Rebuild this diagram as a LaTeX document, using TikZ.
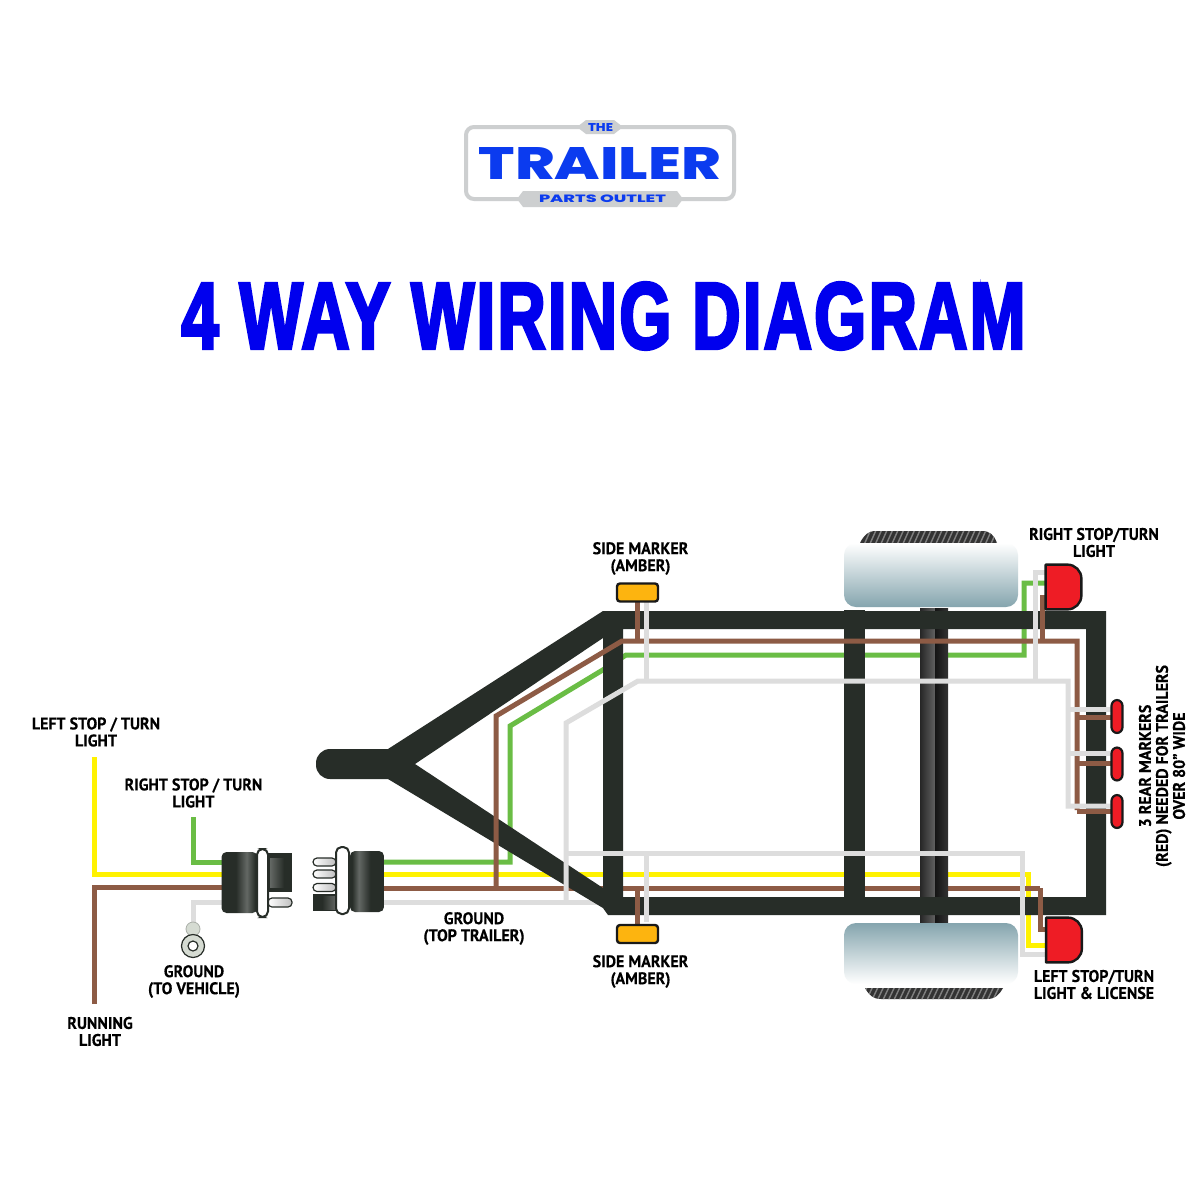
\documentclass[tikz,border=0pt]{standalone}
\usepackage{fontspec}
\setmainfont{PT Sans}[BoldFeatures={FakeStretch=0.95,FakeBold=0.25}]
\newfontfamily\logofont{Poppins}[BoldFont=Poppins ExtraBold]
\newfontfamily\titlefont{Liberation Sans}[BoldFeatures={FakeBold=3.5,LetterSpace=3,FakeStretch=0.9}]
\usetikzlibrary{positioning, calc, arrows.meta}

\definecolor{framedark}{HTML}{272D28}
\definecolor{wiregreen}{HTML}{6ABD45}
\definecolor{wireyellow}{HTML}{FFF200}
\definecolor{wirebrown}{HTML}{8D5B45}
\definecolor{wirewhite}{HTML}{DDDDDD}
\definecolor{lampred}{HTML}{EE1C25}
\definecolor{lampamber}{HTML}{FDB40F}
\definecolor{logoblue}{HTML}{0B3BEF}
\definecolor{titleblue}{HTML}{0000EE}
\definecolor{logogray}{HTML}{CDCFD0}
\definecolor{wheelblue}{HTML}{85A5AE}
\definecolor{lugface}{HTML}{D5DBD2}
\colorlet{bodylight}{framedark!72!white}

\pgfdeclarehorizontalshading{plugleftshade}{100bp}{color(0bp)=(framedark); color(45bp)=(framedark); color(60bp)=(bodylight); color(72bp)=(framedark); color(100bp)=(framedark)}
\pgfdeclarehorizontalshading{plugrightshade}{100bp}{color(0bp)=(framedark); color(28bp)=(framedark); color(38bp)=(bodylight); color(55bp)=(framedark); color(100bp)=(framedark)}

\tikzset{
  wire/.style={line width=2.5pt},
  green wire/.style={wire, wiregreen},
  yellow wire/.style={wire, wireyellow},
  brown wire/.style={wire, wirebrown},
  white wire/.style={wire, wirewhite},
  lab/.style={inner sep=0pt, align=center, text=black, font=\bfseries\fontsize{8.4}{8.5}\selectfont},
  plugbody/.style={inner sep=0pt, rounded corners=2.5pt},
  collar/.style={draw=framedark, fill=white, line width=1pt, inner sep=0pt, rounded corners=2.8pt},
  pin/.style={draw=framedark, line width=.6pt, left color=white, right color=black!25, rounded corners=2pt, inner sep=0pt},
  marker/.style={draw=black!90, fill=lampamber, line width=1.2pt, rounded corners=1.5pt, inner sep=0pt, minimum width=20.5pt, minimum height=9pt},
  rear/.style={draw=black!90, fill=lampred, line width=1.1pt, rounded corners=2.9pt, inner sep=0pt, minimum width=5.5pt, minimum height=16.5pt},
  lamp/.style={inner sep=0pt, minimum width=17.5pt, minimum height=22pt},
  lampface/.style={draw=black!90, fill=lampred, line width=1.2pt, line join=round},
}

\begin{document}
\begin{tikzpicture}[x=0.5pt, y=-0.5pt]
    \useasboundingbox (0,0) rectangle (1200,1200);
    \fill[white] (0,0) rectangle (1200,1200);

    % Logo
    \draw[logogray, line width=2pt, rounded corners=4pt] (466,127) rectangle (734,199);
    \fill[logogray] (577,127) -- (586,120) -- (614,120) -- (623,127) -- (614,134) -- (586,134) -- cycle;
    \fill[logogray] (517,199) -- (523,191) -- (677,191) -- (683,199) -- (677,207) -- (523,207) -- cycle;
    \node[inner sep=0pt, logoblue] (logothe) at (600.5,127) {\resizebox{12.5pt}{4pt}{\logofont\bfseries THE}};
    \node[inner sep=0pt, logoblue] (logomain) at (600,163) {\resizebox{121pt}{16pt}{\logofont\bfseries TRAILER}};
    \node[inner sep=0pt, logoblue] (logoparts) at (602.5,198.5) {\resizebox{63.5pt}{3.8pt}{\logofont\bfseries PARTS OUTLET}};

    % Title
    \node[inner sep=0pt, titleblue] (title) at (603.5,316) {\resizebox{422pt}{33pt}{\titlefont\bfseries 4 WAY WIRING DIAGRAM}};

    % Wires under the frame
    \coordinate (plugLg) at (222,862);
    \coordinate (plugLy) at (222,874);
    \coordinate (plugLb) at (222,887);
    \coordinate (plugLw) at (222,902);
    \coordinate (plugRg) at (384,862);
    \coordinate (plugRy) at (384,874);
    \coordinate (plugRb) at (384,888);
    \coordinate (plugRw) at (384,902);
    \coordinate (greenend) at (193,817);
    \coordinate (yellowend) at (94,757);
    \coordinate (brownend) at (94,1004);
    \draw[green wire] (greenend) -- (193,862) -- (plugLg);
    \draw[yellow wire] (yellowend) -- (94,874) -- (plugLy);
    \draw[brown wire] (brownend) -- (94,887) -- (plugLb);
    \draw[white wire] (193,925) -- (193,902) -- (plugLw);
    \draw[green wire] (plugRg) -- (510,862) -- (510,726) -- (606,668) -- (626,655) -- (1024,655) -- (1024,583) -- (1048,583);
    \draw[yellow wire] (plugRy) -- (1028,874) -- (1028,945) -- (1048,945);
    \draw[brown wire] (plugRb) -- (1040,888);
    \draw[white wire] (plugRw) -- (600,902);

    % Axle
    \shade[left color=black!85, right color=black!62] (920,608) rectangle (935,922);
    \shade[left color=black!92, right color=black!80] (935,608) rectangle (948,922);

    % Frame
    \fill[framedark, rounded corners=7pt] (316,749) rectangle (405,779);
    \fill[framedark, even odd rule] (388,749) -- (603,611) -- (1106,611) -- (1106,915) -- (608,915) -- (603,908) -- (388,779) -- cycle
        (415,764) -- (603,638) -- (603,888) -- cycle
        (623,629) rectangle (1086,897);
    \fill[framedark] (844,610) rectangle (865,915);

    % Wheels
    \begin{scope}
        \clip (860,544) -- (860,543) .. controls (864,535) and (868,531) .. (876,531) -- (982,531) .. controls (990,531) and (994,535) .. (997,543) -- cycle;
        \fill[black!80] (855,528) rectangle (1000,545);
        \foreach \i in {0,...,26} {
            \draw[black!50, line width=.7pt] ({858+5.5*\i},546) -- ({866+5.5*\i},528);
        }
    \end{scope}
    \begin{scope}
        \clip (865,988) .. controls (869,995) and (873,999) .. (881,999) -- (987,999) .. controls (995,999) and (999,995) .. (1003,988) -- cycle;
        \fill[black!80] (860,985) rectangle (1008,1002);
        \foreach \i in {0,...,27} {
            \draw[black!50, line width=.7pt] ({860+5.5*\i},1002) -- ({868+5.5*\i},985);
        }
    \end{scope}
    \shade[top color=white, middle color=wheelblue!35!white, bottom color=wheelblue, rounded corners=6pt] (844,543) rectangle (1018,607);
    \shade[top color=wheelblue, middle color=wheelblue!35!white, bottom color=white, rounded corners=6pt] (844,923) rectangle (1018,984);

    % Wires over the frame
    \draw[brown wire] (plugRb -| 496,0) -- (496,716) -- (622,641) -- (1077,641) -- (1077,810);
    \draw[brown wire] (1040,888) -- (1040,929) -- (1048,929);
    \draw[brown wire] (1042,641) -- (1042,597) -- (1048,597);
    \draw[brown wire] (637,602) -- (637,641);
    \draw[brown wire] (637,888) -- (637,925);
    \draw[brown wire] (1077,717) -- (1112,717);
    \draw[brown wire] (1077,763) -- (1112,763);
    \draw[brown wire] (1077,811) -- (1112,811);
    \draw[white wire] (plugRw -| 566,0) -- (566,723) -- (638,681) -- (1068,681) -- (1068,806) -- (1112,806);
    \draw[white wire] (1068,709) -- (1112,709);
    \draw[white wire] (1068,753) -- (1112,753);
    \draw[white wire] (1035,681) -- (1035,572) -- (1048,572);
    \draw[white wire] (646,602) -- (646,681);
    \draw[white wire] (566,853) -- (1022,853) -- (1022,954) -- (1048,954);
    \draw[white wire] (646,853) -- (646,922);

    % Lamps
    \node[marker] (markertop) at (637.5,592.5) {};
    \node[marker] (markerbot) at (637.5,934) {};
    \node[rear] (reara) at (1117,716.5) {};
    \node[rear] (rearb) at (1117,764) {};
    \node[rear] (rearc) at (1117,811.5) {};
    \node[lamp] (lampright) at (1063.5,587) {};
    \node[lamp] (lampleft) at (1064,940) {};
    \foreach \l in {lampright, lampleft} {
        \draw[lampface] (\l.south west) [sharp corners] -- (\l.north west) [rounded corners=7pt] -- (\l.north east) -- (\l.south east) [sharp corners] -- cycle;
    }

    % Plugs
    \node[plugbody, shading=plugleftshade, minimum width=18pt, minimum height=30.5pt] (plugL) at (239.5,882.5) {};
    \fill[framedark] (262,853) rectangle (292,892);
    \shade[left color=framedark!72!white, right color=framedark] (270,858) rectangle (284,887);
    \node[pin, minimum width=12pt, minimum height=4.5pt] (pinL) at (280,902.5) {};
    \node[collar, minimum width=5.5pt, minimum height=34pt] (collarL) at (262.5,883) {};

    \node[plugbody, shading=plugrightshade, minimum width=17pt, minimum height=30.5pt] (plugR) at (367,881.5) {};
    \node[pin, minimum width=11.5pt, minimum height=4pt] (pinRa) at (324.5,862) {};
    \node[pin, minimum width=11.5pt, minimum height=4pt] (pinRb) at (324.5,874) {};
    \node[pin, minimum width=11.5pt, minimum height=4pt] (pinRc) at (324.5,887.5) {};
    \fill[framedark] (313,894) rectangle (338,911);
    \shade[left color=framedark, right color=framedark!72!white] (322,896) rectangle (336,909);
    \node[collar, minimum width=6.5pt, minimum height=33.5pt] (collarR) at (342.5,880.5) {};

    % Ground ring
    \node[circle, inner sep=0pt, minimum size=7pt, fill=lugface, draw=lugface!80!black, line width=.4pt] (lug) at (193,929) {};
    \node[circle, inner sep=0pt, minimum size=11.5pt, fill=lugface, draw=framedark, line width=.6pt] (ring) at (193,946) {};
    \node[circle, inner sep=0pt, minimum size=5pt, fill=white, draw=framedark, line width=.6pt] (ringhole) at (ring) {};

    % Labels
    \node[lab] (leftstop) at (96,732) {LEFT STOP / TURN\\LIGHT};
    \node[lab] (rightstop) at (193.5,793) {RIGHT STOP / TURN\\LIGHT};
    \node[lab] (gndvehicle) at (194,981.5) {GROUND\\(TO VEHICLE)};
    \node[lab] (running) at (100,1031.5) {RUNNING\\LIGHT};
    \node[lab] (gndtrailer) at (474,928.5) {GROUND\\(TOP TRAILER)};
    \node[lab] (sidetop) at (640.5,558.5) {SIDE MARKER\\(AMBER)};
    \node[lab] (sidebot) at (640.5,971.5) {SIDE MARKER\\(AMBER)};
    \node[lab] (lampnorth) at (1094,542.5) {RIGHT STOP/TURN\\LIGHT};
    \node[lab] (lampsouth) at (1094,984.5) {LEFT STOP/TURN\\LIGHT \& LICENSE};
    \node[lab, rotate=90] (rearnote) at (1162,766) {3 REAR MARKERS\\(RED) NEEDED FOR TRAILERS\\OVER 80” WIDE};
\end{tikzpicture}
\end{document}
